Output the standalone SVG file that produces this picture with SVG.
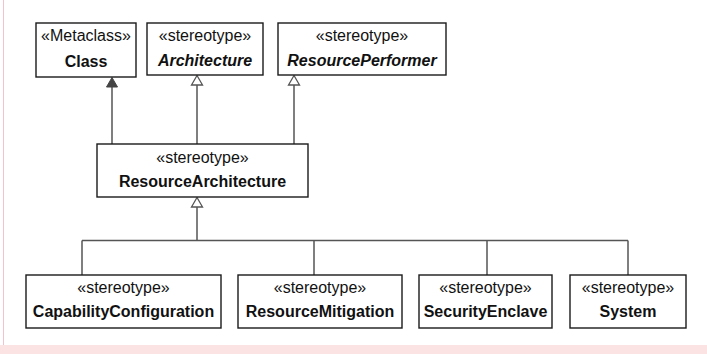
<svg xmlns="http://www.w3.org/2000/svg" width="707" height="354" viewBox="0 0 707 354">
<style>
.box{fill:#fff;stroke:#1a1a1a;stroke-width:1.4}
.st{font-family:"Liberation Sans",Arial,sans-serif;font-size:16px;fill:#111;text-anchor:middle}
.nm{font-family:"Liberation Sans",Arial,sans-serif;font-size:16px;font-weight:bold;fill:#111;text-anchor:middle}
.it{font-style:italic}
.ln{fill:none;stroke:#555;stroke-width:1.5}
.hollow{fill:#fff;stroke:#555;stroke-width:1.3}
.filled{fill:#444;stroke:#444;stroke-width:1}
</style>
<rect x="0" y="0" width="707" height="354" fill="#fff"/>
<line x1="3.5" y1="0" x2="3.5" y2="354" stroke="#f2c4ca" stroke-width="1"/>
<rect x="0" y="345" width="707" height="9" fill="#fbe3e4"/>
<g id="connectors">
<line class="ln" x1="112" y1="87" x2="112" y2="144"/>
<polygon class="filled" points="112,77.5 106.5,87 117.5,87"/>
<line class="ln" x1="197" y1="85" x2="197" y2="144"/>
<polygon class="hollow" points="197,75.5 191.5,85 202.5,85"/>
<line class="ln" x1="294" y1="85" x2="294" y2="144"/>
<polygon class="hollow" points="294,75.5 288.5,85 299.5,85"/>
<line class="ln" x1="197" y1="207" x2="197" y2="240.5"/>
<polygon class="hollow" points="197,197.5 191.5,207 202.5,207"/>
<line class="ln" x1="82" y1="240.5" x2="628" y2="240.5"/>
<line class="ln" x1="82" y1="240.5" x2="82" y2="275"/>
<line class="ln" x1="314" y1="240.5" x2="314" y2="275"/>
<line class="ln" x1="487" y1="240.5" x2="487" y2="275"/>
<line class="ln" x1="628" y1="240.5" x2="628" y2="275"/>
</g>
<g id="Class">
<rect class="box" x="36" y="23" width="100" height="54"/>
<text class="st" x="86" y="41">«Metaclass»</text>
<text class="nm" x="86" y="67">Class</text>
</g>
<g id="Architecture">
<rect class="box" x="147" y="23" width="116" height="52"/>
<text class="st" x="205" y="41">«stereotype»</text>
<text class="nm it" x="205" y="66">Architecture</text>
</g>
<g id="ResourcePerformer">
<rect class="box" x="278" y="23" width="168" height="52"/>
<text class="st" x="362" y="41">«stereotype»</text>
<text class="nm it" x="362" y="66">ResourcePerformer</text>
</g>
<g id="ResourceArchitecture">
<rect class="box" x="97" y="144" width="211" height="53"/>
<text class="st" x="202.5" y="163">«stereotype»</text>
<text class="nm" x="202.5" y="187">ResourceArchitecture</text>
</g>
<g id="CapabilityConfiguration">
<rect class="box" x="26" y="275" width="195" height="53"/>
<text class="st" x="123.5" y="293">«stereotype»</text>
<text class="nm" x="123.5" y="317">CapabilityConfiguration</text>
</g>
<g id="ResourceMitigation">
<rect class="box" x="238" y="275" width="164" height="53"/>
<text class="st" x="320" y="293">«stereotype»</text>
<text class="nm" x="320" y="317">ResourceMitigation</text>
</g>
<g id="SecurityEnclave">
<rect class="box" x="419" y="275" width="133" height="53"/>
<text class="st" x="485.5" y="293">«stereotype»</text>
<text class="nm" x="485.5" y="317">SecurityEnclave</text>
</g>
<g id="System">
<rect class="box" x="570" y="275" width="116" height="53"/>
<text class="st" x="628" y="293">«stereotype»</text>
<text class="nm" x="628" y="317">System</text>
</g>
</svg>
